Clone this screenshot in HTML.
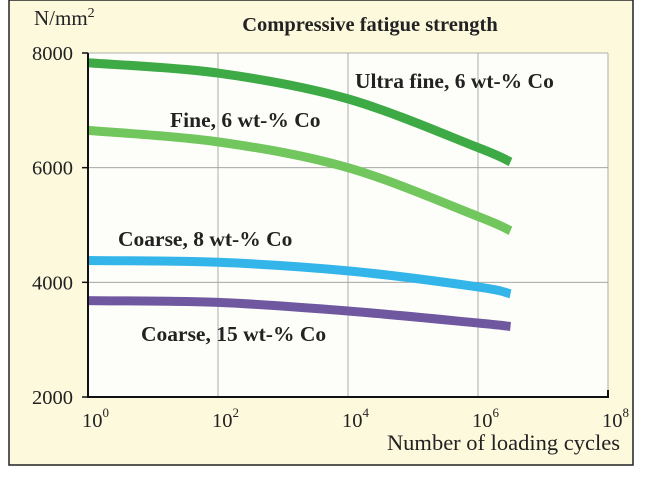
<!DOCTYPE html>
<html><head><meta charset="utf-8"><style>
body{margin:0;background:#fff;width:653px;height:490px;overflow:hidden}
svg text{font-family:"Liberation Serif",serif}
</style></head><body>
<svg width="653" height="490" xmlns="http://www.w3.org/2000/svg">
<rect x="9" y="0" width="624" height="465" fill="#fcf9dd" stroke="#222" stroke-width="1.5"/>
<rect x="88" y="53" width="520" height="344" fill="#fdfef9"/>
<g id="grid"></g>
<g id="series"></g>
<g id="axes"></g>
<text x="370" y="31" font-size="20.5" font-weight="bold" text-anchor="middle" fill="#222">Compressive fatigue strength</text>
<text x="34" y="25" font-size="21" fill="#222">N/mm<tspan dy="-8" font-size="14">2</tspan></text>
<text x="620" y="450" font-size="22.5" text-anchor="end" fill="#222">Number of loading cycles</text>
<text x="355" y="88" font-size="21.5" font-weight="bold" fill="#222">Ultra fine, 6 wt-% Co</text>
<text x="170" y="127" font-size="21.5" font-weight="bold" fill="#222">Fine, 6 wt-% Co</text>
<text x="118" y="246" font-size="21.5" font-weight="bold" fill="#222">Coarse, 8 wt-% Co</text>
<text x="141" y="341" font-size="21.5" font-weight="bold" fill="#222">Coarse, 15 wt-% Co</text>
</svg>
<script>
const xExps=[0,2,4,6,6.5];
const ultraFine=[7830,7650,7200,6350,6100];
const fine=[6650,6450,6000,5150,4900];
const coarse8=[4380,4350,4200,3920,3800];
const coarse15=[3680,3650,3500,3290,3230];
const yTicks=[2000,4000,6000,8000];
const xTicks=[0,2,4,6,8];
const NS="http://www.w3.org/2000/svg";
const X=e=>88+e*65;
const Y=v=>397-(v-2000)*344/6000;
function mk(t,a,p){const el=document.createElementNS(NS,t);for(const k in a)el.setAttribute(k,a[k]);p.appendChild(el);return el;}
const grid=document.getElementById('grid'),axes=document.getElementById('axes'),ser=document.getElementById('series');
yTicks.forEach(v=>{
 const l=mk('line',{x1:88,x2:608,y1:Y(v),y2:Y(v),stroke:'#999','stroke-width':0.8},grid);
 
 
 const tk=mk('line',{x1:82,x2:88,y1:Y(v),y2:Y(v),stroke:'#111','stroke-width':1.5},axes);
 
 
 const t=mk('text',{x:73,y:Y(v)+7,'font-size':20.5,'text-anchor':'end',fill:'#222'},axes);
 t.textContent=v;
 
 
});
xTicks.forEach(e=>{
 const l=mk('line',{x1:X(e),x2:X(e),y1:53,y2:397,stroke:'#999','stroke-width':0.8},grid);
 
 
 const t=mk('text',{x:X(e)-6,y:427,'font-size':20.5,fill:'#222'},axes);
 t.innerHTML='10<tspan dy="-10" font-size="13">'+e+'</tspan>';
 
 
});
const ax=mk('path',{d:'M88 53 V397 H608 V390',stroke:'#111','stroke-width':2,fill:'none'},axes);


function path(vals){
 const p=xExps.map((e,i)=>[X(e),Y(vals[i])]);
 let d='M'+p[0][0]+' '+p[0][1];
 for(let i=0;i<p.length-1;i++){
  const p0=p[Math.max(i-1,0)],p1=p[i],p2=p[i+1],p3=p[Math.min(i+2,p.length-1)];
  d+=` C${p1[0]+(p2[0]-p0[0])/6} ${p1[1]+(p2[1]-p0[1])/6} ${p2[0]-(p3[0]-p1[0])/6} ${p2[1]-(p3[1]-p1[1])/6} ${p2[0]} ${p2[1]}`;
 }
 return d;
}
[[ultraFine,'#3daa45','series-ultra-fine'],[fine,'#72c65e','series-fine'],[coarse8,'#33b5ea','series-coarse-8'],[coarse15,'#6f58a0','series-coarse-15']].forEach(s=>{
 const el=mk('path',{d:path(s[0]),stroke:s[1],'stroke-width':9,fill:'none'},ser);
 
 
});
</script>
</body></html>
